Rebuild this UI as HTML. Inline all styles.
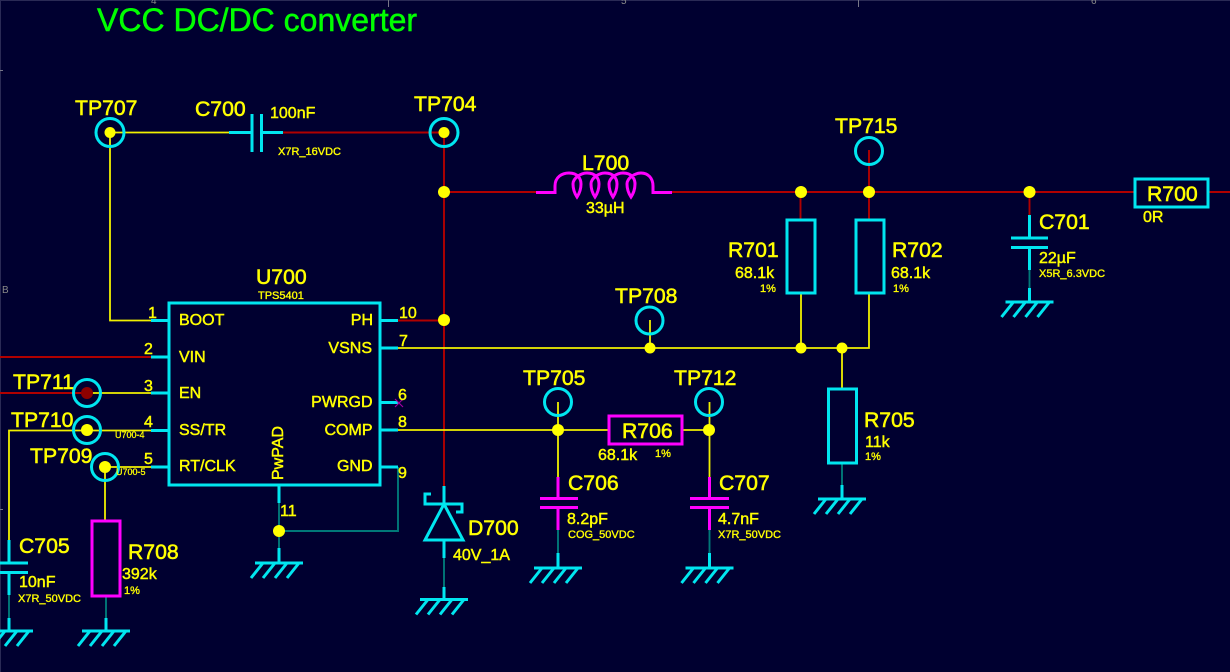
<!DOCTYPE html>
<html><head><meta charset="utf-8"><title>VCC DC/DC converter</title>
<style>
html,body{margin:0;padding:0;background:#000030}
svg{display:block}
text{font-family:"Liberation Sans",sans-serif;fill:#ffff00;stroke:#ffff00;stroke-width:.45}
.t{font-size:21.2px;stroke-width:.55}.m{font-size:16px}.s{font-size:11px;stroke-width:.35}.n{font-size:16px}.x{font-size:9px;stroke-width:.25}
.c{stroke:#00e6f0;stroke-width:3;fill:none}
.g{stroke:#ff00ff;stroke-width:3;fill:none}
.y{stroke:#f0f000;stroke-width:1.8;fill:none}
.r{stroke:#b00000;stroke-width:1.9;fill:none}
.e{stroke:#007878;stroke-width:1.9;fill:none}
</style></head><body>
<svg width="1230" height="672" viewBox="0 0 1230 672" xmlns="http://www.w3.org/2000/svg">
<defs>
<g id="gnd" class="c"><path d="M-24 0H24M-16 0L-28 15M-4 0L-16 15M8 0L-4 15M20 0L8 15"/></g>
</defs>
<rect width="1230" height="672" fill="#000030"/>
<!-- border ruler -->
<path d="M0 .5H1230M.5 0V672" stroke="#2a2a55" stroke-width="1" fill="none"/>
<path d="M388.5 0V7M858.5 0V7M0 70.5H3M0 509.5H3" stroke="#777788" stroke-width="1" fill="none"/>
<text x="151" y="4" font-size="10" style="fill:#888;stroke:none">4</text>
<text x="621" y="4" font-size="10" style="fill:#888;stroke:none">5</text>
<text x="1091" y="4" font-size="10" style="fill:#888;stroke:none">6</text>
<text x="2" y="293" font-size="10" style="fill:#888;stroke:none">B</text>

<!-- wires: red -->
<path class="r" d="M283 132.5H444M444 132.5V487M444 192H536M672 192H1135M1208 192H1230M800.5 192V220M869 150V220M1029.5 192V215M398 320.5H444M0 357H151M0 393H87"/>
<!-- wires: yellow -->
<path class="y" d="M110 132.5H229M110 132.5V320.5H151M87 393H151M9 540V430.5H151M105 467H151M105 467V521M398 348H869V293M801 293V348M842 348V389M650 320V348M398 430H609M682 430H709M558 402V477M709.5 402V477"/>
<!-- wires: teal -->
<path class="e" d="M9 595V618M106 596V618M279 503V548M279 531H398V467M842 463V485M444 558V587M558 530V553M709.5 530V553M1029.5 270V288"/>

<!-- IC -->
<rect class="c" x="169" y="303" width="211" height="182"/>
<path class="c" d="M151 320.5H169M151 357H169M151 393H169M151 430.5H169M151 467H169M380 320.5H398M380 348H398M380 402.500H398M380 430H398M380 467H398M279 485V503"/>
<path d="M395 399L403 407M403 399L395 407" stroke="#a000a0" stroke-width="1.2"/>

<!-- C700 -->
<path class="c" d="M229 132.500H252M252 114V152M261.500 114V152M261.500 132.500H283"/>
<!-- test points -->
<g class="c">
<circle cx="110" cy="132.500" r="14"/><circle cx="444" cy="132.500" r="14"/><circle cx="869" cy="151" r="13.500"/>
<circle cx="649.500" cy="320.500" r="13.500"/><circle cx="87" cy="393" r="13.500"/><circle cx="87" cy="430" r="13.500"/>
<circle cx="105" cy="467" r="13.500"/><circle cx="558" cy="402" r="13.500"/><circle cx="709" cy="402" r="13.500"/>
</g>
<!-- L700 -->
<path class="g" d="M536 192.500H555V186C555 177 562 173 569 173C578 173 581 179 581 184C581 190 579 194 577 197C575 194 573 189 573 184C573 178 581 173 587 173C596 173 599 179 599 184C599 190 597 194 595 197C593 194 591 189 591 184C591 178 599 173 605 173C614 173 617 179 617 184C617 190 615 194 613 197C611 194 609 189 609 184C609 178 617 173 623 173C632 173 635 179 635 184C635 190 633 194 631 197C629 194 627 189 627 184C627 178 635 173 641 173C648 173 653 178 653 186V192.500H672"/>
<!-- resistors -->
<g class="c">
<rect x="787" y="220" width="28" height="73"/>
<rect x="856" y="220" width="28" height="73"/>
<rect x="828.500" y="389" width="28" height="74"/>
<rect x="1135" y="179" width="73" height="28"/>
</g>
<rect class="g" x="92" y="521" width="28" height="75"/>
<rect class="g" x="609" y="416" width="73" height="28"/>
<!-- caps -->
<path class="c" d="M9 540V563M-5 563H28M-5 572.500H28M9 572.500V595M9 618V631"/>
<path class="c" d="M1029.500 215V238M1011 238H1048M1011 247.500H1048M1029.500 247.500V270M1029.500 288V302"/>
<path class="g" d="M558 477V498.500M540 498.500H578M540 507.500H578M558 507.500V530"/>
<path class="g" d="M709.500 477V498.500M690 498.500H729M690 507.500H729M709.500 507.500V530"/>
<!-- diode -->
<path class="c" d="M444 486V504M431 494H425V504H462V512H456M444 504L425 540H463ZM444 540V558M444 587V599"/>
<!-- ground stubs -->
<path class="c" d="M106 618V631M279 548V563M842 485V499M558 553V568M709.500 553V568"/>
<use href="#gnd" x="9" y="631"/><use href="#gnd" x="106" y="631"/><use href="#gnd" x="279" y="563"/>
<use href="#gnd" x="444" y="599.500"/><use href="#gnd" x="558" y="568"/><use href="#gnd" x="709.500" y="568"/>
<use href="#gnd" x="842" y="499"/><use href="#gnd" x="1029.500" y="302"/>
<!-- junctions -->
<g fill="#ffff00">
<circle cx="110" cy="132.500" r="5.500"/><circle cx="444" cy="132.500" r="5.500"/><circle cx="444" cy="192" r="6"/><circle cx="444" cy="320" r="6"/>
<circle cx="801" cy="192" r="6"/><circle cx="869" cy="192" r="6"/><circle cx="1029.500" cy="192" r="6"/>
<circle cx="650" cy="348" r="5.500"/><circle cx="801" cy="348" r="5.500"/><circle cx="842" cy="348" r="5.500"/>
<circle cx="558" cy="430" r="6"/><circle cx="709" cy="430" r="6"/>
<circle cx="87" cy="430" r="6"/><circle cx="105" cy="467" r="6"/><circle cx="279" cy="531" r="6"/>
</g>
<circle cx="87" cy="393" r="6" fill="#8c0000"/>

<!-- text -->
<text x="97" y="31" font-size="32" style="fill:#00ff00;stroke:#00ff00;stroke-width:.5">VCC DC/DC converter</text>
<g class="t">
<text class="t" x="75" y="115">TP707</text><text class="t" x="195" y="116">C700</text><text class="t" x="414" y="111">TP704</text>
<text class="t" x="582" y="170">L700</text><text class="t" x="835" y="133">TP715</text><text class="t" x="615" y="303">TP708</text>
<text class="t" x="256" y="284">U700</text><text class="t" x="728" y="257">R701</text><text class="t" x="892" y="257">R702</text>
<text class="t" x="1039" y="229">C701</text><text class="t" x="1147" y="201">R700</text>
<text class="t" x="13" y="389">TP711</text><text class="t" x="11" y="427">TP710</text><text class="t" x="30" y="463">TP709</text>
<text class="t" x="523" y="385">TP705</text><text class="t" x="674" y="385">TP712</text><text class="t" x="622" y="438">R706</text>
<text class="t" x="864" y="427">R705</text><text class="t" x="568" y="490">C706</text><text class="t" x="719" y="490">C707</text>
<text class="t" x="468" y="535">D700</text><text class="t" x="19" y="553">C705</text><text class="t" x="128" y="559">R708</text>
</g>
<g>
<text class="m" x="270" y="118">100nF</text><text class="m" x="586" y="213">33µH</text>
<text class="m" x="735" y="278">68.1k</text><text class="m" x="891" y="278">68.1k</text><text class="m" x="1039" y="263">22µF</text>
<text class="m" x="1143" y="222">0R</text><text class="m" x="865" y="447">11k</text><text class="m" x="598" y="460">68.1k</text>
<text class="m" x="567" y="524">8.2pF</text><text class="m" x="718" y="524">4.7nF</text><text class="m" x="453" y="560">40V_1A</text>
<text class="m" x="19" y="587">10nF</text><text class="m" x="122" y="579">392k</text>
<text class="m" x="179" y="325">BOOT</text><text class="m" x="179" y="362">VIN</text><text class="m" x="179" y="398">EN</text>
<text class="m" x="179" y="435">SS/TR</text><text class="m" x="179" y="471">RT/CLK</text>
<text class="m" x="373" y="325" text-anchor="end">PH</text><text class="m" x="372" y="353" text-anchor="end">VSNS</text>
<text class="m" x="372.500" y="407" text-anchor="end">PWRGD</text><text class="m" x="372.500" y="435" text-anchor="end">COMP</text>
<text class="m" x="372.500" y="471" text-anchor="end">GND</text>
<text class="m" transform="translate(283 480) rotate(-90)">PwPAD</text>
<text class="n" x="148" y="318">1</text><text class="n" x="144" y="354">2</text><text class="n" x="144" y="391">3</text>
<text class="n" x="144" y="427">4</text><text class="n" x="144" y="464">5</text>
<text class="n" x="399" y="318">10</text><text class="n" x="399" y="346">7</text><text class="n" x="398" y="400">6</text>
<text class="n" x="398" y="427">8</text><text class="n" x="398" y="478">9</text><text class="n" x="280" y="516">11</text>
</g>
<g>
<text class="s" x="278" y="155">X7R_16VDC</text><text class="s" x="258" y="299">TPS5401</text>
<text class="s" x="760" y="292">1%</text><text class="s" x="893" y="292">1%</text>
<text class="s" x="1039" y="277">X5R_6.3VDC</text><text class="s" x="655" y="457">1%</text><text class="s" x="865" y="460">1%</text>
<text class="s" x="568" y="538">COG_50VDC</text><text class="s" x="718" y="538">X7R_50VDC</text>
<text class="s" x="18" y="602">X7R_50VDC</text><text class="s" x="124" y="594">1%</text>
<text class="x" x="115" y="438">U700-4</text><text class="x" x="116" y="475">U700-5</text>
</g>
</svg>
</body></html>
